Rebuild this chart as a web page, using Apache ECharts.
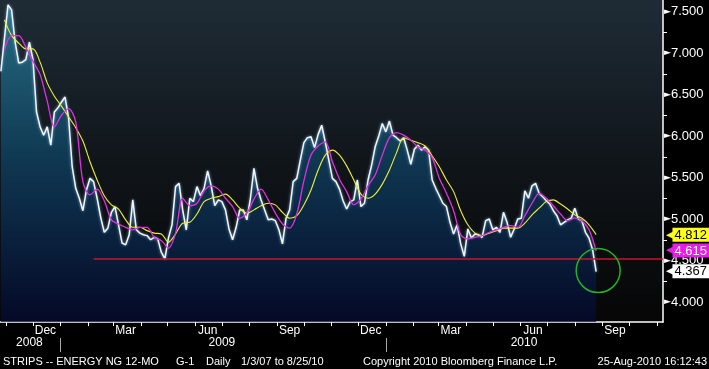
<!DOCTYPE html>
<html>
<head>
<meta charset="utf-8">
<script src="https://cdn.jsdelivr.net/npm/echarts@6/dist/echarts.min.js"></script>
<style>
html, body { margin: 0; padding: 0; background: #000; }
#main { width: 709px; height: 369px; }
</style>
</head>
<body>
<div id="main"></div>
<script>
// axis range (daily categories)
var axisStart = '2008-10-25';
var axisEnd = '2010-11-08';

// NG 12-month strip, one reading every 4 days from priceStart
var priceStart = '2008-10-26';
var priceStep = 4;
var price = [
  6.78, 7.18, 7.58, 7.52, 7.13, 6.88, 6.89, 6.92, 7.13, 6.92,
  6.29, 6.11, 6.01, 6.11, 5.89, 6.29, 6.34, 6.41, 6.47, 6.22,
  5.63, 5.37, 5.25, 5.10, 5.35, 5.49, 5.45, 5.25, 5.02, 4.84,
  4.89, 5.08, 5.15, 4.93, 4.71, 4.69, 4.81, 5.23, 4.87, 4.83,
  4.81, 4.80, 4.75, 4.78, 4.76, 4.60, 4.52, 4.77, 4.93, 5.39,
  5.43, 5.11, 4.87, 5.25, 5.21, 5.39, 5.28, 5.37, 5.58, 5.40,
  5.16, 5.23, 5.21, 5.11, 4.88, 4.75, 4.90, 5.11, 5.11, 4.99,
  5.25, 5.61, 5.37, 5.23, 5.11, 4.99, 5.00, 4.98, 4.87, 4.70,
  5.01, 5.11, 5.45, 5.49, 5.71, 5.92, 5.98, 5.99, 5.86, 6.02,
  6.13, 5.93, 5.71, 5.49, 5.45, 5.36, 5.22, 5.12, 5.21, 5.23,
  5.47, 5.15, 5.19, 5.47, 5.65, 5.87, 6.00, 6.15, 6.05, 6.18,
  6.01, 5.98, 5.94, 5.98, 5.83, 5.66, 5.84, 5.89, 5.83, 5.87,
  5.83, 5.47, 5.37, 5.28, 5.19, 5.15, 4.96, 4.82, 4.93, 4.70,
  4.55, 4.88, 4.77, 4.82, 4.81, 4.78, 4.98, 5.00, 4.87, 4.90,
  4.84, 5.08, 4.96, 4.78, 4.88, 5.00, 5.01, 5.34, 5.25, 5.40,
  5.43, 5.31, 5.27, 5.22, 5.18, 5.10, 5.04, 4.93, 4.96, 4.99,
  5.01, 5.13, 5.00, 4.98, 4.84, 4.77, 4.63, 4.367
];

// moving averages, one reading every 8 days from avgStart
var avgStart = '2008-10-30';
var avgStep = 8;
var avgMagenta = [
  7.04, 7.21, 7.21, 7.07, 6.90, 6.74, 6.42, 6.11, 6.25, 6.33,
  6.17, 5.45, 5.29, 5.36, 5.22, 4.99, 4.94, 4.90, 4.87, 4.90,
  4.90, 4.78, 4.74, 4.65, 4.83, 5.25, 5.16, 5.19, 5.34, 5.40,
  5.36, 5.25, 5.15, 5.01, 5.07, 5.24, 5.36, 5.23, 5.07, 4.94,
  4.89, 5.06, 5.46, 5.77, 5.88, 5.93, 5.69, 5.48, 5.33, 5.17,
  5.24, 5.40, 5.53, 5.77, 5.98, 6.04, 6.01, 5.95, 5.87, 5.83,
  5.74, 5.49, 5.31, 5.10, 4.81, 4.76, 4.78, 4.80, 4.84, 4.87,
  4.90, 4.92, 4.90, 5.04, 5.19, 5.31, 5.25, 5.16, 5.06, 4.98,
  5.01, 4.98, 4.87, 4.615
];
var avgYellow = [
  7.40, 7.21, 7.12, 7.05, 7.05, 6.89, 6.64, 6.48, 6.36, 6.23,
  6.10, 5.94, 5.69, 5.47, 5.28, 5.17, 5.12, 4.99, 4.90, 4.90,
  4.86, 4.83, 4.82, 4.72, 4.82, 4.95, 4.96, 5.06, 5.21, 5.25,
  5.27, 5.30, 5.23, 5.13, 5.07, 5.11, 5.16, 5.19, 5.17, 5.08,
  5.01, 5.04, 5.17, 5.35, 5.59, 5.77, 5.83, 5.77, 5.64, 5.47,
  5.30, 5.25, 5.30, 5.42, 5.59, 5.80, 5.98, 5.95, 5.92, 5.88,
  5.76, 5.63, 5.47, 5.33, 5.10, 4.93, 4.83, 4.80, 4.83, 4.86,
  4.89, 4.89, 4.89, 4.95, 5.05, 5.13, 5.21, 5.23, 5.18, 5.12,
  5.05, 5.01, 4.93, 4.812
];

// support line drawn on the chart
var supportLevel = 4.52;
var supportFrom = '2009-02-07';

// tick labels
var monthNames = ['Jan', 'Feb', 'Mar', 'Apr', 'May', 'Jun', 'Jul', 'Aug', 'Sep', 'Oct', 'Nov', 'Dec'];
var labelMonths = [12, 3, 6, 9];
var yearLabels = { '2008-11-27': '2008', '2009-07-01': '2009', '2010-06-05': '2010' };
var yTicks = [4.0, 4.5, 5.0, 5.5, 6.0, 6.5, 7.0, 7.5];
var yMinorTicks = [4.25, 4.75, 5.25, 5.75, 6.25, 6.75, 7.25];

var footer = [
  { text: 'STRIPS -- ENERGY NG 12-MO', left: 3 },
  { text: 'G-1', left: 176 },
  { text: 'Daily', left: 206 },
  { text: '1/3/07 to 8/25/10', left: 241 },
  { text: 'Copyright 2010 Bloomberg Finance L.P.', left: 363 },
  { text: '25-Aug-2010 16:12:43', right: 2 }
];

var days = [];
for (var t = Date.parse(axisStart); t <= Date.parse(axisEnd); t += 86400000) {
  days.push(new Date(t).toISOString().slice(0, 10));
}
function toPoints(values, start, step) {
  var i0 = days.indexOf(start);
  return values.map(function (v, i) { return [i0 + i * step, v]; });
}
function tag(v, bg, fg) {
  return {
    yAxis: v,
    lineStyle: { color: 'rgba(0,0,0,0)', width: 0 },
    label: {
      show: true, position: 'end', distance: 3,
      formatter: '{a|\u25C0}{b|' + v.toFixed(3) + '}',
      rich: {
        a: { color: bg, fontSize: 11, fontFamily: 'DejaVu Sans', padding: [0, -2, 0, 0] },
        b: { backgroundColor: bg, color: fg, fontSize: 13, fontFamily: 'Liberation Sans', padding: [1, 4, 0, 2] }
      }
    }
  };
}

var lastIdx = days.indexOf(priceStart) + (price.length - 1) * priceStep;
var lastPrice = price[price.length - 1];

var myChart = echarts.init(document.getElementById('main'));
var option = {
  backgroundColor: '#000',
  animation: false,
  grid: {
    left: 0, right: 46, top: 0, bottom: 47,
    show: true, borderWidth: 0,
    backgroundColor: new echarts.graphic.LinearGradient(0, 0, 0, 1, [
      { offset: 0, color: '#1f2c36' },
      { offset: 0.5, color: '#10151a' },
      { offset: 1, color: '#060606' }
    ])
  },
  xAxis: [{
    type: 'category',
    data: days,
    boundaryGap: false,
    axisLine: { lineStyle: { color: '#fff', width: 1.5 } },
    axisTick: {
      interval: function (i, v) { return v.slice(8) === '01'; },
      length: 4,
      lineStyle: { color: '#fff' }
    },
    axisLabel: {
      interval: function (i, v) {
        return v.slice(8) === '15' && labelMonths.indexOf(+v.slice(5, 7)) >= 0;
      },
      formatter: function (v) { return monthNames[+v.slice(5, 7) - 1]; },
      color: '#fff', fontSize: 12, fontFamily: 'Liberation Sans', margin: 3
    },
    splitLine: { show: false }
  }, {
    type: 'category',
    data: days,
    boundaryGap: false,
    position: 'bottom',
    offset: 16,
    axisLine: { show: false },
    axisTick: {
      show: true,
      interval: function (i, v) { return v.slice(5) === '01-01'; },
      length: 14,
      lineStyle: { color: '#aaa' }
    },
    axisLabel: {
      interval: function (i, v) { return !!yearLabels[v]; },
      formatter: function (v) { return yearLabels[v] || ''; },
      color: '#fff', fontSize: 12, fontFamily: 'Liberation Sans', margin: -1
    },
    splitLine: { show: false }
  }],
  yAxis: [{
    type: 'value',
    position: 'right',
    min: 3.759, max: 7.639,
    axisLine: { show: true, lineStyle: { color: '#fff', width: 1.5 } },
    axisTick: { show: false },
    axisLabel: {
      customValues: yTicks,
      margin: 1,
      formatter: function (v) { return '{a|\u25BA}{b|' + v.toFixed(3) + '}'; },
      rich: {
        a: { color: '#fff', fontSize: 9, fontFamily: 'DejaVu Sans' },
        b: { color: '#fff', fontSize: 13, fontFamily: 'Liberation Sans' }
      }
    },
    splitLine: { show: false }
  }, {
    type: 'value',
    position: 'right',
    min: 3.759, max: 7.639,
    axisLine: { show: false },
    axisTick: { show: true, customValues: yMinorTicks, length: 4, lineStyle: { color: '#fff' } },
    axisLabel: { show: false },
    splitLine: { show: false }
  }],
  graphic: footer.map(function (f) {
    var el = { type: 'text', top: 356, style: { text: f.text, fill: '#fff', font: '11px "Liberation Sans"' } };
    if (f.right !== undefined) el.right = f.right; else el.left = f.left;
    return el;
  }),
  series: [{
    name: 'NG 12-MO',
    type: 'line',
    data: toPoints(price, priceStart, priceStep),
    showSymbol: false,
    z: 3,
    lineStyle: { color: '#f2f6fb', width: 1.5, shadowBlur: 3, shadowColor: 'rgba(160,210,255,0.8)' },
    areaStyle: {
      color: new echarts.graphic.LinearGradient(0, 0, 0, 1, [
        { offset: 0, color: '#2a8aa6' },
        { offset: 0.5, color: '#0e4568' },
        { offset: 1, color: '#030a35' }
      ])
    },
    markLine: {
      silent: true,
      symbol: ['none', 'none'],
      data: [
        [
          { coord: [supportFrom, supportLevel], lineStyle: { color: '#c8142e', width: 1.5, type: 'solid' }, label: { show: false } },
          { coord: [axisEnd, supportLevel] }
        ],
        tag(lastPrice, '#ffffff', '#000000')
      ]
    },
    markPoint: {
      silent: true,
      symbol: 'circle',
      symbolSize: 44,
      symbolOffset: [2, -1],
      itemStyle: { color: 'rgba(0,0,0,0)', borderColor: '#22b422', borderWidth: 1.5 },
      label: { show: false },
      data: [{ coord: [days[lastIdx], lastPrice] }]
    }
  }, {
    name: 'avg yellow',
    type: 'line',
    data: toPoints(avgYellow, avgStart, avgStep),
    showSymbol: false,
    smooth: 0.3,
    z: 4,
    lineStyle: { color: '#f0f02a', width: 1.1 },
    markLine: {
      silent: true, symbol: ['none', 'none'],
      data: [tag(avgYellow[avgYellow.length - 1], '#ffff1a', '#000000')]
    }
  }, {
    name: 'avg magenta',
    type: 'line',
    data: toPoints(avgMagenta, avgStart, avgStep),
    showSymbol: false,
    smooth: 0.3,
    z: 4,
    lineStyle: { color: '#e22ee2', width: 1.3 },
    markLine: {
      silent: true, symbol: ['none', 'none'],
      data: [tag(avgMagenta[avgMagenta.length - 1], '#e61ee6', '#ffffff')]
    }
  }]
};
myChart.setOption(option);
</script>
</body>
</html>
